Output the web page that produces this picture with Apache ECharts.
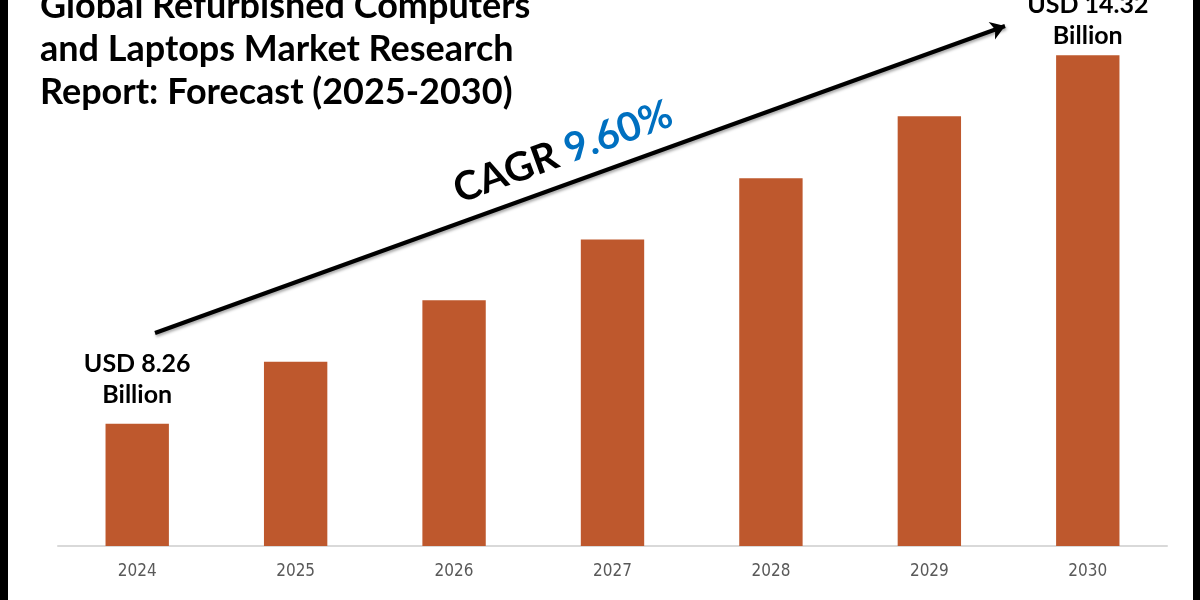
<!DOCTYPE html>
<html>
<head>
<meta charset="utf-8">
<script src="https://cdn.jsdelivr.net/npm/echarts@6/dist/echarts.min.js"></script>
<style>html,body{margin:0;padding:0;background:#fff;}#c{width:1200px;height:600px;}</style>
</head>
<body>
<div id="c"></div>
<script>
const categories = ['2024', '2025', '2026', '2027', '2028', '2029', '2030'];
const values = [8.26, 9.28, 10.29, 11.29, 12.30, 13.32, 14.32];
const titleLines = ['Global Refurbished Computers', 'and Laptops Market Research', 'Report: Forecast (2025-2030)'];
const cagrText = '9.60%';

const chart = echarts.init(document.getElementById('c'), null, {renderer: 'canvas'});
const FONT = 'Lato, "Open Sans", sans-serif';

const seriesData = values.map((v, i) => {
  const item = {value: v};
  if (i === 0 || i === values.length - 1) {
    item.label = {
      show: true,
      position: 'top',
      distance: i === 0 ? 13 : 4,
      formatter: '{b|USD ' + v.toFixed(2) + '}\n{b|Billion}',
      rich: {b: {fontSize: 25, fontWeight: 'bold', color: '#000', fontFamily: FONT, lineHeight: 31, align: 'center'}}
    };
  }
  return item;
});

chart.setOption({
  backgroundColor: '#ffffff',
  animation: false,
  title: {
    text: titleLines.join('\n'),
    left: 35,
    top: -20,
    textStyle: {fontSize: 36, fontWeight: 'bold', color: '#000', fontFamily: FONT, lineHeight: 43}
  },
  grid: {left: 58, right: 33, top: 14, bottom: 54},
  xAxis: {
    type: 'category',
    data: categories,
    axisLine: {show: true, lineStyle: {color: '#d9d9d9', width: 2}},
    axisTick: {show: false},
    axisLabel: {color: '#595959', fontSize: 17, margin: 17, fontFamily: '"Liberation Sans Narrow", "DejaVu Sans Condensed", sans-serif'}
  },
  yAxis: {
    type: 'value',
    min: 6.25,
    max: 15,
    show: false,
    splitLine: {show: false}
  },
  series: [{
    type: 'bar',
    data: seriesData,
    barWidth: '40%',
    itemStyle: {color: '#BE582D'},
    markLine: {
      silent: true,
      symbol: ['none', 'arrow'],
      symbolSize: 14,
      label: {show: false},
      lineStyle: {color: '#000', width: 4, type: 'solid', shadowColor: 'rgba(0,0,0,0.35)', shadowBlur: 3, shadowOffsetX: 1, shadowOffsetY: 2},
      data: [[{x: 155, y: 333}, {x: 1005, y: 26}]]
    }
  }],
  graphic: [
    {type: 'rect', left: 0, top: 0, shape: {x: 0, y: 0, width: 8, height: 600}, style: {fill: '#000'}},
    {type: 'rect', left: 1193, top: 0, shape: {x: 0, y: 0, width: 7, height: 600}, style: {fill: '#000'}},
    {
      type: 'text',
      x: 563, y: 152,
      rotation: 20 * Math.PI / 180,
      style: {
        text: '{a|CAGR }{b|' + cagrText + '}',
        align: 'center',
        verticalAlign: 'middle',
        rich: {
          a: {fontSize: 40, fontWeight: 'bold', fill: '#000', fontFamily: FONT},
          b: {fontSize: 40, fontWeight: 'bold', fill: '#0070C0', fontFamily: FONT}
        }
      }
    }
  ]
});
</script>
</body>
</html>
